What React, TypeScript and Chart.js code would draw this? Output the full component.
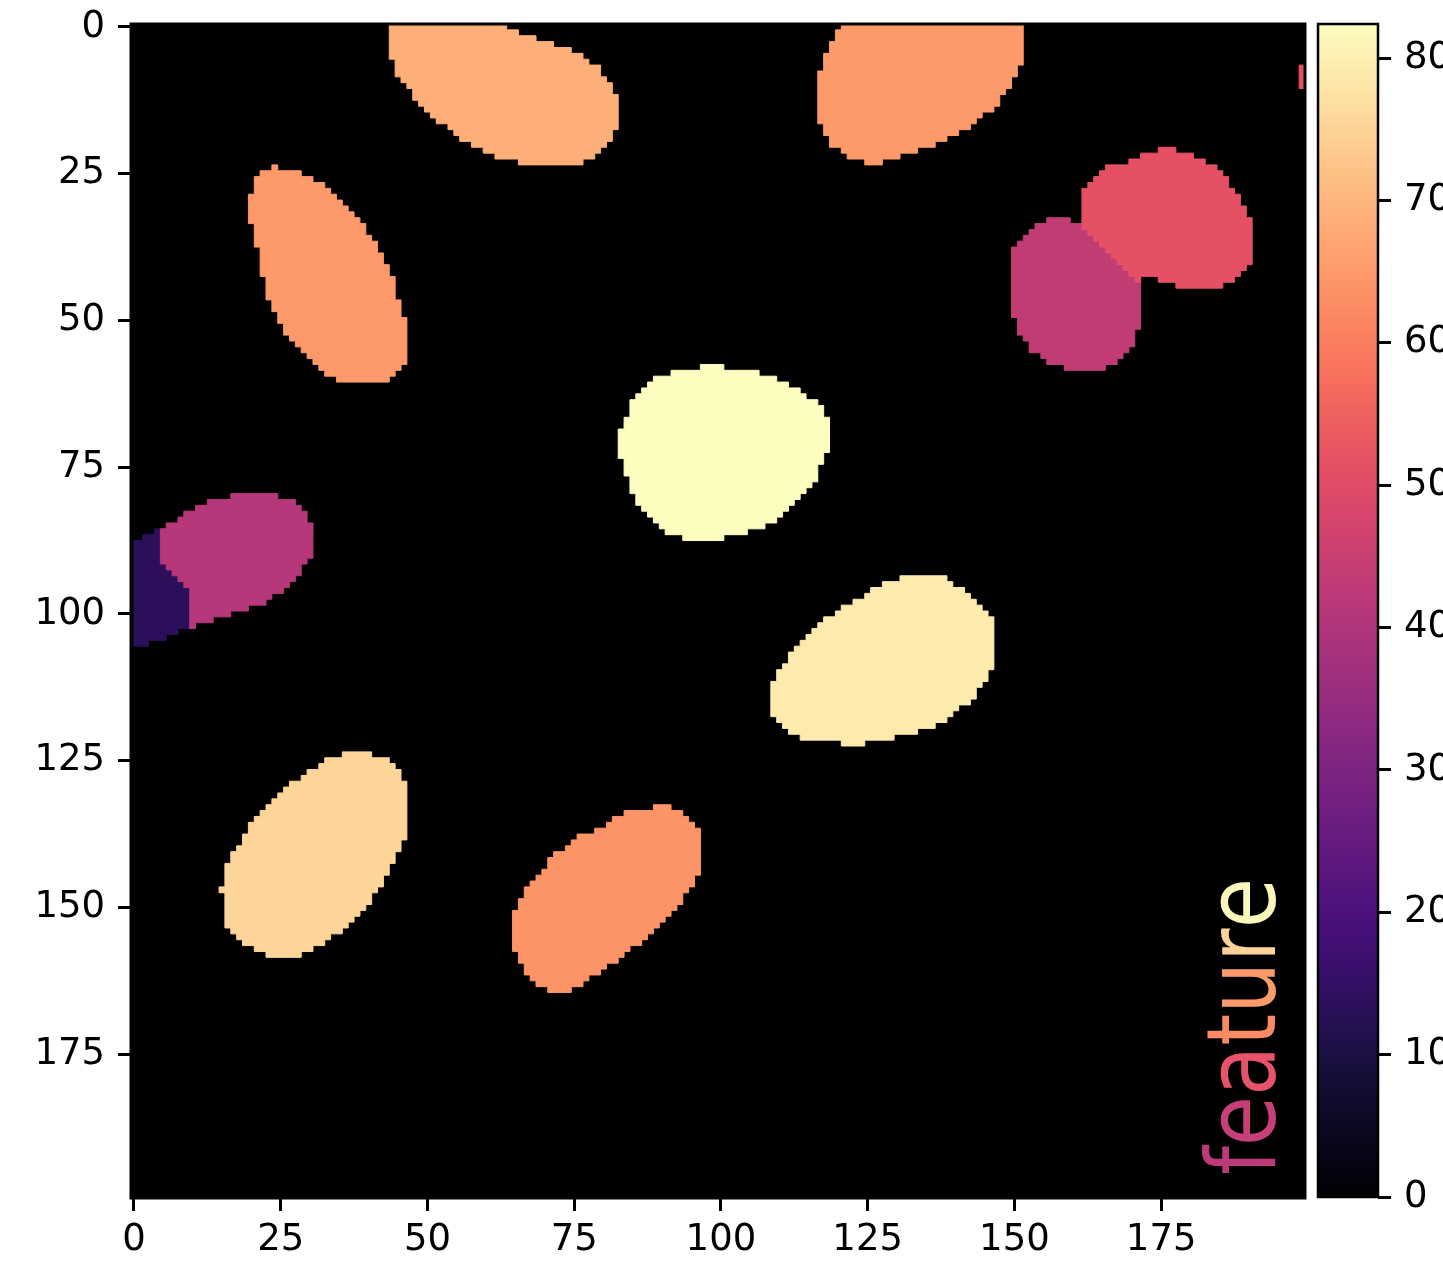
import React, { useEffect, useRef } from 'react';
import { Chart, registerables } from 'chart.js';

Chart.register(...registerables);

// ---------- data ----------
const xTicks = [0, 25, 50, 75, 100, 125, 150, 175];
const yTicks = [0, 25, 50, 75, 100, 125, 150, 175];
const cbTicks = [0, 10, 20, 30, 40, 50, 60, 70, 80];
const imageMin = -0.5;
const imageMax = 199.5;
const vmin = 0;
const vmax = 82.4;

// Region outlines: corners of the pixel-edge staircase (column edge, row edge),
// each point starts a horizontal run (stepped outline).
const regionTopMid = [[44,0],[64,1],[66,2],[69,3],[72,4],[75,5],[77,6],[78,7],[80,9],[81,10],[82,12],[83,18],[82,20],[81,21],[80,22],[79,23],[77,24],[66,23],[62,22],[60,21],[58,20],[56,19],[55,18],[54,17],[52,16],[51,15],[50,14],[49,13],[48,11],[47,10],[46,9],[45,6]];
const regionTopRight = [[121,0],[152,7],[151,9],[150,11],[149,12],[148,14],[147,15],[145,16],[144,17],[143,18],[141,19],[139,20],[137,21],[134,22],[131,23],[128,24],[125,23],[122,22],[121,21],[119,19],[118,17],[117,8],[118,5],[119,3],[120,1]];
const regionUpperLeft = [[22,25],[24,24],[25,25],[29,26],[31,27],[33,28],[34,29],[35,30],[36,31],[37,32],[38,33],[39,34],[40,36],[41,37],[42,39],[43,41],[44,43],[45,47],[46,50],[47,58],[46,59],[45,60],[44,61],[35,60],[33,59],[32,58],[31,57],[30,56],[29,55],[28,54],[27,53],[26,51],[25,49],[24,47],[23,43],[22,38],[21,34],[20,29],[21,26]];
const regionRed = [[175,21],[178,22],[181,23],[183,24],[185,25],[186,26],[187,28],[188,29],[189,31],[190,33],[191,41],[190,42],[189,43],[188,44],[186,45],[178,44],[175,43],[172,44],[171,43],[170,42],[169,41],[168,40],[167,39],[166,38],[165,37],[164,36],[163,35],[162,28],[163,27],[164,26],[165,25],[166,24],[170,23],[172,22]];
const regionPurpleRight = [[156,33],[160,34],[172,52],[171,55],[170,56],[169,57],[168,58],[166,59],[159,58],[156,57],[155,56],[153,54],[152,53],[151,50],[150,38],[151,37],[152,36],[153,35],[154,34]];
const regionCenter = [[97,58],[101,59],[107,60],[110,61],[112,62],[114,63],[115,64],[117,65],[118,67],[119,73],[118,75],[117,78],[116,79],[115,80],[114,81],[113,82],[112,83],[111,84],[110,85],[108,86],[105,87],[101,88],[94,87],[91,86],[90,85],[89,84],[88,83],[87,82],[86,80],[85,77],[84,74],[83,69],[84,67],[85,64],[86,63],[87,62],[88,61],[89,60],[92,59]];
const regionDarkLeft = [[0.5,88],[2,87],[4,86],[10,103],[8,104],[6,105],[3,106]];
const regionPurpleLeft = [[17,80],[25,81],[28,82],[29,83],[30,85],[31,91],[30,92],[29,94],[28,95],[27,96],[26,97],[24,98],[23,99],[20,100],[17,101],[14,102],[11,103],[10,96],[9,95],[8,94],[7,93],[6,92],[5,86],[6,85],[8,84],[9,83],[11,82],[13,81]];
const regionMidRight = [[131,94],[139,95],[140,96],[142,97],[143,98],[144,99],[145,100],[146,101],[147,110],[146,112],[145,113],[144,115],[143,116],[141,117],[140,118],[139,119],[137,120],[134,121],[130,122],[125,123],[121,122],[114,121],[112,120],[111,119],[110,118],[109,112],[110,110],[111,109],[112,107],[113,106],[114,105],[115,104],[116,103],[117,102],[118,101],[120,100],[121,99],[123,98],[125,97],[126,96],[128,95]];
const regionLowerLeft = [[36,124],[41,125],[44,126],[45,127],[46,129],[47,139],[46,141],[45,143],[44,145],[43,147],[42,148],[41,150],[40,151],[39,152],[38,153],[37,154],[36,155],[34,156],[33,157],[31,158],[29,159],[23,158],[21,157],[19,156],[18,155],[17,154],[16,148],[15,147],[16,143],[17,141],[18,140],[19,138],[20,136],[21,135],[22,134],[23,133],[24,132],[25,131],[26,130],[27,129],[29,128],[30,127],[32,126],[33,125]];
const regionLowerMid = [[89,133],[92,134],[94,135],[95,136],[96,137],[97,145],[96,147],[95,148],[94,150],[93,151],[92,152],[91,153],[90,154],[89,155],[88,156],[87,157],[85,158],[84,159],[83,160],[81,161],[80,162],[78,163],[77,164],[75,165],[71,164],[69,163],[68,162],[67,160],[66,158],[65,151],[66,149],[67,147],[68,146],[69,145],[70,144],[71,142],[72,141],[74,140],[75,139],[76,138],[79,137],[81,136],[82,135],[84,134]];
const regionEdge = [[199,7],[200,11]];

const regionOutlines = [regionTopMid, regionTopRight, regionUpperLeft, regionRed, regionPurpleRight, regionCenter, regionDarkLeft, regionPurpleLeft, regionMidRight, regionLowerLeft, regionLowerMid, regionEdge];
const regionValues = [68.6, 65.0, 64.8, 51.5, 43.5, 82.4, 13.5, 41.2, 79.2, 75.2, 64.0, 51.0];
const regionLayer = [0, 0, 0, 0, 1, 0, 1, 0, 0, 0, 0, 0];

const titleLetters = ['f', 'e', 'a', 't', 'u', 'r', 'e'];
const titleLetterColors = ['#bd3a7a', '#c63f79', '#e6536a', '#f98a64', '#fc9b6a', '#fed39a', '#fbf7ba'];

// ---------- colormap ----------
const magmaStops: [number, string][] = [
  [0, '#000004'], [0.1, '#140e36'], [0.125, '#1c1044'], [0.2, '#3b0f70'], [0.25, '#4f127b'],
  [0.3, '#641a80'], [0.375, '#812581'], [0.4, '#8c2981'], [0.5, '#b6377a'], [0.6, '#de4968'],
  [0.625, '#e55064'], [0.7, '#f7705c'], [0.75, '#fb8861'], [0.8, '#fe9f6d'], [0.875, '#fec287'],
  [0.9, '#fecf92'], [1, '#fcfdbf'],
];
function hexToRgb(h: string) {
  return [parseInt(h.slice(1, 3), 16), parseInt(h.slice(3, 5), 16), parseInt(h.slice(5, 7), 16)];
}
function magma(t: number) {
  const v = Math.max(0, Math.min(1, t));
  for (let i = 1; i < magmaStops.length; i++) {
    const [t1, c1] = magmaStops[i];
    const [t0, c0] = magmaStops[i - 1];
    if (v <= t1) {
      const f = (v - t0) / (t1 - t0);
      const a = hexToRgb(c0), b = hexToRgb(c1);
      const r = a.map((x, k) => Math.round(x + (b[k] - x) * f));
      return `rgb(${r[0]},${r[1]},${r[2]})`;
    }
  }
  return magmaStops[magmaStops.length - 1][1];
}

const FONT = '"DejaVu Sans", "Liberation Sans", sans-serif';

const imagePlugin = {
  id: 'imageFrame',
  beforeDatasetsDraw(chart: any) {
    const { ctx, chartArea: a } = chart;
    ctx.save();
    ctx.fillStyle = '#000000';
    ctx.fillRect(a.left, a.top, a.right - a.left, a.bottom - a.top);
    ctx.restore();
  },
  afterDatasetsDraw(chart: any) {
    const { ctx, chartArea: a } = chart;
    ctx.save();
    ctx.strokeStyle = '#000000';
    ctx.lineWidth = 3;
    ctx.strokeRect(a.left, a.top, a.right - a.left, a.bottom - a.top);
    // rotated title inside the image
    ctx.font = `96px ${FONT}`;
    ctx.textBaseline = 'alphabetic';
    ctx.textAlign = 'left';
    let total = 0;
    titleLetters.forEach((ch) => { total += ctx.measureText(ch).width; });
    const sx = 297 / total;
    ctx.translate(a.right - 30, a.bottom - 23);
    ctx.rotate(-Math.PI / 2);
    ctx.scale(sx, 1);
    let x = 0;
    titleLetters.forEach((ch, i) => {
      ctx.fillStyle = titleLetterColors[i];
      ctx.fillText(ch, x, 0);
      x += ctx.measureText(ch).width;
    });
    ctx.restore();
  },
};

const colorbarPlugin = {
  id: 'colorbar',
  beforeDatasetsDraw(chart: any) {
    const { ctx, chartArea: a } = chart;
    const ys = chart.scales.y;
    const y0 = ys.getPixelForValue(vmin);
    const y1 = ys.getPixelForValue(vmax);
    const g = ctx.createLinearGradient(0, y0, 0, y1);
    magmaStops.forEach(([t, c]) => g.addColorStop(t, c));
    ctx.save();
    ctx.fillStyle = g;
    ctx.fillRect(a.left, a.top, a.right - a.left, a.bottom - a.top);
    ctx.strokeStyle = '#000000';
    ctx.lineWidth = 2.5;
    ctx.strokeRect(a.left, a.top, a.right - a.left, a.bottom - a.top);
    ctx.restore();
  },
};

function tickSetter(values: number[]) {
  return (scale: any) => {
    scale.ticks = values.map((v) => ({ value: v }));
  };
}
function fixWidth(w: number) {
  return (s: any) => { s.width = w; s.paddingTop = 0; s.paddingBottom = 0; };
}
function fixHeight(h: number) {
  return (s: any) => { s.height = h; s.paddingLeft = 0; s.paddingRight = 0; };
}

export default function App() {
  const mainRef = useRef<HTMLCanvasElement>(null);
  const cbRef = useRef<HTMLCanvasElement>(null);

  useEffect(() => {
    const datasets = regionOutlines.map((outline, i) => {
      const color = magma((regionValues[i] - vmin) / (vmax - vmin));
      const pts = outline.concat([outline[0]]).map(([x, y]) => ({ x: x - 0.5, y: y - 0.5 }));
      return {
        label: `region ${i + 1}`,
        data: pts,
        showLine: true,
        stepped: 'before' as const,
        fill: 'shape' as const,
        backgroundColor: color,
        borderColor: color,
        borderWidth: 1,
        pointRadius: 0,
        pointHoverRadius: 0,
        order: regionLayer[i],
      };
    });

    const axisTicks = {
      color: '#000000',
      font: { family: FONT, size: 37 },
      autoSkip: false,
      maxRotation: 0,
      minRotation: 0,
    };
    const axisGrid = {
      drawOnChartArea: false,
      drawTicks: true,
      tickLength: 13,
      tickWidth: 3,
      tickColor: '#000000',
    };

    const main = new Chart(mainRef.current as HTMLCanvasElement, {
      type: 'scatter',
      data: { datasets: datasets as any },
      options: {
        animation: false,
        responsive: false,
        events: [],
        layout: { padding: { top: 24, right: 138, left: 0, bottom: 0 } },
        plugins: {
          legend: { display: false },
          tooltip: { enabled: false },
        },
        scales: {
          x: {
            type: 'linear',
            min: imageMin,
            max: imageMax,
            afterBuildTicks: tickSetter(xTicks),
            afterFit: fixHeight(64),
            grid: axisGrid,
            border: { display: false },
            ticks: { ...axisTicks, padding: 7 },
          },
          y: {
            type: 'linear',
            reverse: true,
            min: imageMin,
            max: imageMax,
            afterBuildTicks: tickSetter(yTicks),
            afterFit: fixWidth(131),
            grid: axisGrid,
            border: { display: false },
            ticks: { ...axisTicks, padding: 13 },
          },
        },
      } as any,
      plugins: [imagePlugin],
    });

    const cb = new Chart(cbRef.current as HTMLCanvasElement, {
      type: 'scatter',
      data: { datasets: [] },
      options: {
        animation: false,
        responsive: false,
        events: [],
        layout: { padding: { top: 24, right: 0, left: 18, bottom: 65 } },
        plugins: { legend: { display: false }, tooltip: { enabled: false } },
        scales: {
          x: { type: 'linear', display: false, min: 0, max: 1 },
          y: {
            type: 'linear',
            position: 'right',
            min: vmin,
            max: vmax,
            afterBuildTicks: tickSetter(cbTicks),
            afterFit: fixWidth(65),
            grid: axisGrid,
            border: { display: false },
            ticks: { ...axisTicks, padding: 13 },
          },
        },
      } as any,
      plugins: [colorbarPlugin],
    });

    return () => {
      main.destroy();
      cb.destroy();
    };
  }, []);

  return (
    <div style={{ position: 'absolute', left: 0, top: 0, width: 1443, height: 1262, background: '#ffffff', overflow: 'hidden' }}>
      <canvas ref={mainRef} width={1443} height={1262} style={{ position: 'absolute', left: 0, top: 0, width: 1443, height: 1262 }} />
      <canvas ref={cbRef} width={143} height={1262} style={{ position: 'absolute', left: 1300, top: 0, width: 143, height: 1262 }} />
    </div>
  );
}
